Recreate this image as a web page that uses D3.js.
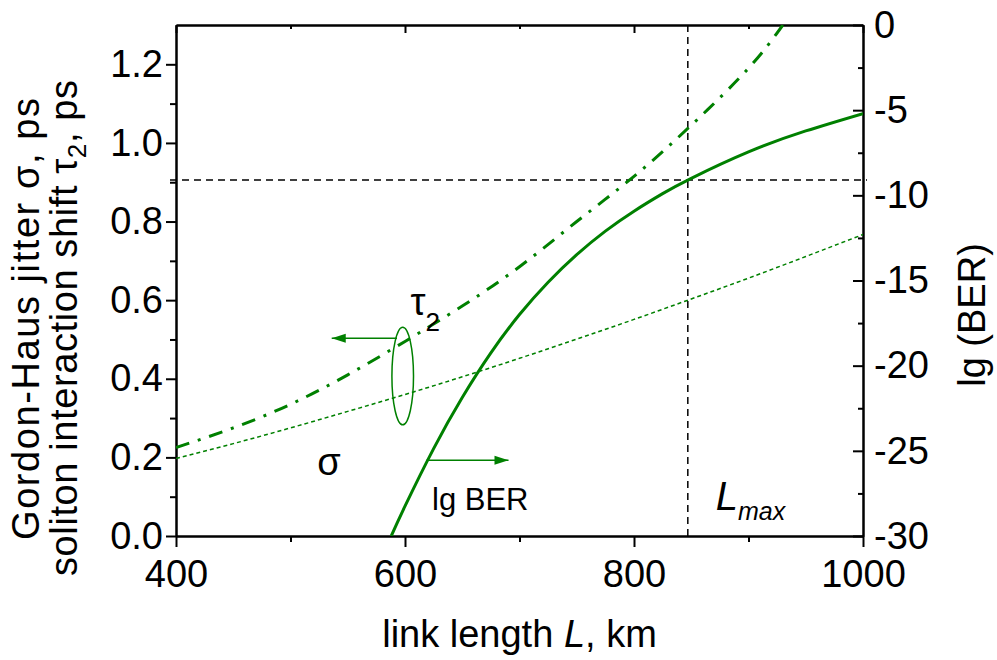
<!DOCTYPE html>
<html>
<head>
<meta charset="utf-8">
<script src="https://cdn.jsdelivr.net/npm/d3@7"></script>
<style>
  html, body { margin: 0; padding: 0; background: #fff; }
  svg { display: block; font-family: "Liberation Sans", Arial, sans-serif; }
</style>
</head>
<body>
<svg id="chart" width="997" height="660"></svg>
<script>
// ---- data ----
const tauL = [400, 450, 500, 550, 600, 650, 700, 750, 800, 850, 900, 930];
const tauVals = [0.225, 0.275, 0.335, 0.41, 0.495, 0.585, 0.685, 0.80, 0.915, 1.045, 1.19, 1.30];

const sigmaL = [400, 450, 500, 550, 600, 650, 700, 750, 800, 850, 900, 950, 1000];
const sigmaVals = [0.197, 0.235, 0.275, 0.317, 0.36, 0.405, 0.452, 0.501, 0.551, 0.603, 0.656, 0.711, 0.767];

const berL = [588, 600, 625, 650, 675, 700, 725, 750, 775, 800, 825, 850, 900, 950, 1000];
const berVals = [-30, -28.25, -24.87, -21.87, -19.25, -17.0, -15.1, -13.48, -12.1, -10.93, -9.9, -9.0, -7.45, -6.22, -5.2];

const xMajorTicks = [400, 600, 800, 1000];
const xMinorTicks = [500, 700, 900];
const yLeftMajor = [0, 0.2, 0.4, 0.6, 0.8, 1.0, 1.2];
const yLeftMinor = [0.1, 0.3, 0.5, 0.7, 0.9, 1.1];
const yRightMajor = [-30, -25, -20, -15, -10, -5, 0];
const yRightMinor = [-27.5, -22.5, -17.5, -12.5, -7.5, -2.5];

const Lmax = 847;
const berThreshold = -9.1;

// ---- layout ----
const svg = d3.select("#chart");
const mLeft = 176, mRight = 863, mTop = 25, mBottom = 536;
const green = "#008000";
const FS = 38;

const x = d3.scaleLinear().domain([400, 1000]).range([mLeft, mRight]);
const yL = d3.scaleLinear().domain([0, 1.3]).range([mBottom, mTop]);
const yR = d3.scaleLinear().domain([-30, 0]).range([mBottom, mTop]);

const defs = svg.append("defs");
defs.append("marker").attr("id", "arrow")
  .attr("viewBox", "0 0 14 10").attr("refX", 14).attr("refY", 5)
  .attr("markerWidth", 15).attr("markerHeight", 10)
  .attr("markerUnits", "userSpaceOnUse").attr("orient", "auto")
  .append("path").attr("d", "M0,0.5 L14,5 L0,9.5 Z").attr("fill", green);

defs.append("clipPath").attr("id", "plotclip")
  .append("rect").attr("x", mLeft).attr("y", mTop).attr("width", mRight - mLeft).attr("height", mBottom - mTop);

// ---- axes ----
function styleAxis(g) {
  g.selectAll("path.domain").attr("stroke", "#000").attr("stroke-width", 2);
  g.selectAll(".tick line").attr("stroke", "#000").attr("stroke-width", 2);
  g.selectAll("text").attr("font-size", FS).attr("fill", "#000")
    .attr("font-family", '"Liberation Sans", Arial, sans-serif');
}

svg.append("g").attr("transform", `translate(0,${mBottom})`)
  .call(d3.axisBottom(x).tickValues(xMajorTicks).tickFormat(d3.format("d")).tickSizeInner(11).tickSizeOuter(0).tickPadding(13))
  .call(styleAxis);
svg.append("g").attr("transform", `translate(0,${mBottom})`)
  .call(d3.axisBottom(x).tickValues(xMinorTicks).tickFormat("").tickSizeInner(6).tickSizeOuter(0))
  .call(styleAxis);
svg.append("g").attr("transform", `translate(0,${mTop})`)
  .call(d3.axisTop(x).tickValues(xMajorTicks).tickFormat("").tickSizeInner(-8).tickSizeOuter(0))
  .call(styleAxis);
svg.append("g").attr("transform", `translate(0,${mTop})`)
  .call(d3.axisTop(x).tickValues(xMinorTicks).tickFormat("").tickSizeInner(-4).tickSizeOuter(0))
  .call(styleAxis);
svg.append("g").attr("transform", `translate(${mLeft},0)`)
  .call(d3.axisLeft(yL).tickValues(yLeftMajor).tickFormat(d3.format(".1f")).tickSizeInner(10).tickSizeOuter(0).tickPadding(3))
  .call(styleAxis);
svg.append("g").attr("transform", `translate(${mLeft},0)`)
  .call(d3.axisLeft(yL).tickValues(yLeftMinor).tickFormat("").tickSizeInner(6).tickSizeOuter(0))
  .call(styleAxis);
svg.append("g").attr("transform", `translate(${mRight},0)`)
  .call(d3.axisRight(yR).tickValues(yRightMajor).tickFormat(d => String(d)).tickSizeInner(-10).tickSizeOuter(0).tickPadding(11))
  .call(styleAxis);
svg.append("g").attr("transform", `translate(${mRight},0)`)
  .call(d3.axisRight(yR).tickValues(yRightMinor).tickFormat("").tickSizeInner(-5).tickSizeOuter(0))
  .call(styleAxis);

// ---- reference lines ----
svg.append("line")
  .attr("x1", x(400) - 6).attr("x2", x(1000) + 4)
  .attr("y1", yR(berThreshold)).attr("y2", yR(berThreshold))
  .attr("stroke", "#000").attr("stroke-width", 1.5).attr("stroke-dasharray", "7,5");
svg.append("line")
  .attr("x1", x(Lmax)).attr("x2", x(Lmax))
  .attr("y1", yL(1.3)).attr("y2", yL(0))
  .attr("stroke", "#000").attr("stroke-width", 1.5).attr("stroke-dasharray", "7,5");

// ---- curves ----
const plot = svg.append("g").attr("clip-path", "url(#plotclip)");

const sigmaLine = d3.line().x((d, i) => x(sigmaL[i])).y(d => yL(d)).curve(d3.curveNatural);
plot.append("path").datum(sigmaVals).attr("d", sigmaLine)
  .attr("fill", "none").attr("stroke", green).attr("stroke-width", 1.5).attr("stroke-dasharray", "4,3");

const tauLine = d3.line().x((d, i) => x(tauL[i])).y(d => yL(d)).curve(d3.curveNatural);
plot.append("path").datum(tauVals).attr("d", tauLine)
  .attr("fill", "none").attr("stroke", green).attr("stroke-width", 3)
  .attr("stroke-dasharray", "14,9,3,9");

const berLine = d3.line().x((d, i) => x(berL[i])).y(d => yR(d)).curve(d3.curveNatural);
plot.append("path").datum(berVals).attr("d", berLine)
  .attr("fill", "none").attr("stroke", green).attr("stroke-width", 3);

// ---- annotations ----
svg.append("ellipse")
  .attr("cx", x(598)).attr("cy", yL(0.407))
  .attr("rx", 10.8).attr("ry", yL(0) - yL(0.124))
  .attr("fill", "none").attr("stroke", green).attr("stroke-width", 1.5);
svg.append("line")
  .attr("x1", x(593)).attr("y1", yL(0.503)).attr("x2", x(536)).attr("y2", yL(0.503))
  .attr("stroke", green).attr("stroke-width", 1.5).attr("marker-end", "url(#arrow)");
svg.append("line")
  .attr("x1", x(618.7)).attr("y1", yR(-25.56)).attr("x2", x(690.4)).attr("y2", yR(-25.56))
  .attr("stroke", green).attr("stroke-width", 1.5).attr("marker-end", "url(#arrow)");

const tauLbl = svg.append("text").attr("x", x(604.7)).attr("y", yL(0.562)).attr("font-size", FS);
tauLbl.append("tspan").text("τ");
tauLbl.append("tspan").attr("font-size", 26).attr("dy", 16).text("2");

svg.append("text").attr("x", x(523.3)).attr("y", yL(0.155)).attr("font-size", FS).text("σ");
svg.append("text").attr("x", x(623.6)).attr("y", yL(0.066)).attr("font-size", 31).text("lg BER");

const lmaxLbl = svg.append("text").attr("x", x(871.4)).attr("y", yL(0.066)).attr("font-size", 40).attr("font-style", "italic");
lmaxLbl.append("tspan").text("L");
lmaxLbl.append("tspan").attr("font-size", 25).attr("dy", 10).text("max");

const xt = svg.append("text").attr("x", (mLeft + mRight) / 2).attr("y", 647)
  .attr("text-anchor", "middle").attr("font-size", FS);
xt.append("tspan").text("link length ");
xt.append("tspan").attr("font-style", "italic").text("L");
xt.append("tspan").text(", km");

svg.append("text").attr("transform", "translate(39,319) rotate(-90)")
  .attr("text-anchor", "middle").attr("font-size", FS)
  .attr("textLength", 442).attr("lengthAdjust", "spacing")
  .text("Gordon-Haus jitter σ, ps");
const yt2 = svg.append("text").attr("transform", "translate(77,328) rotate(-90)")
  .attr("text-anchor", "middle").attr("font-size", FS)
  .attr("textLength", 496).attr("lengthAdjust", "spacing");
yt2.append("tspan").text("soliton interaction shift τ");
yt2.append("tspan").attr("font-size", 26).attr("dy", 9).text("2");
yt2.append("tspan").attr("dy", -9).text(", ps");

svg.append("text").attr("transform", "translate(985,315) rotate(-90)")
  .attr("text-anchor", "middle").attr("font-size", FS)
  .text("lg (BER)");
</script>
</body>
</html>
